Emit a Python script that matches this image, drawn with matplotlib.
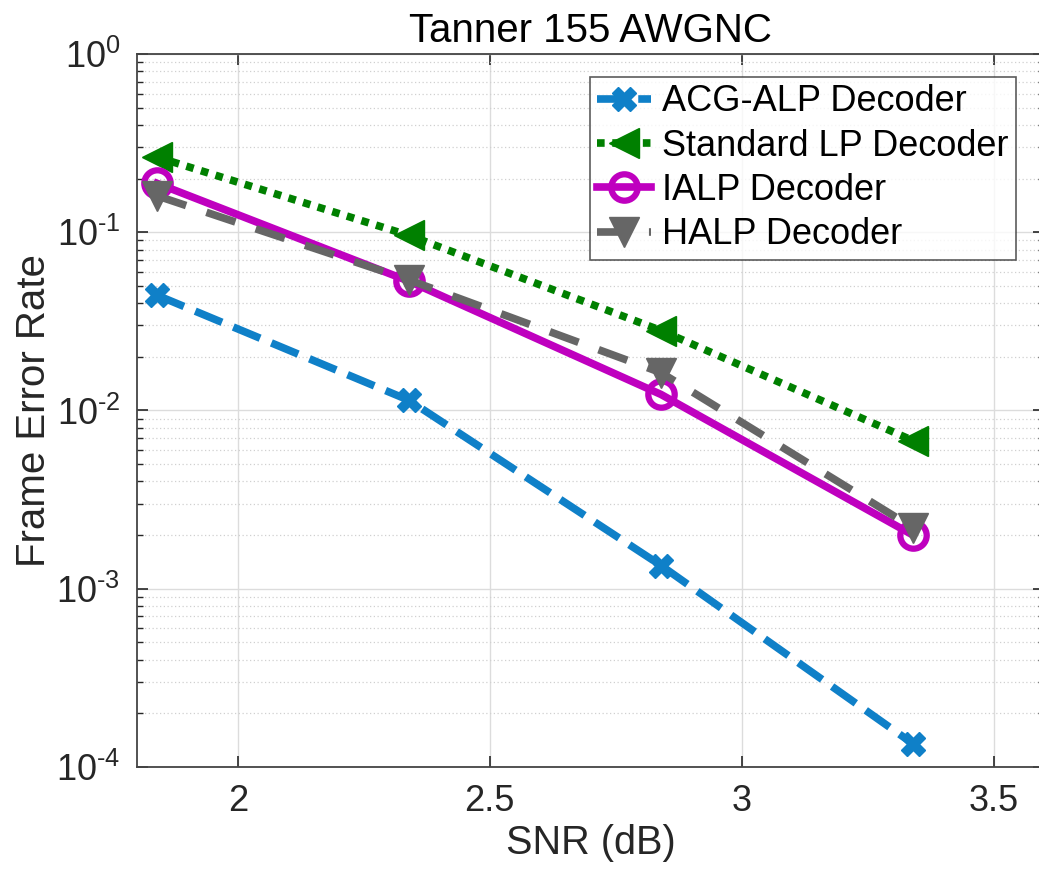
import matplotlib
matplotlib.use("Agg")
import matplotlib.pyplot as plt
from matplotlib.ticker import LogLocator, NullFormatter, FixedLocator, FixedFormatter

plt.rcParams['font.family'] = ['Liberation Sans', 'DejaVu Sans']
plt.rcParams['mathtext.fontset'] = 'custom'
plt.rcParams['mathtext.rm'] = 'Liberation Sans'
plt.rcParams['mathtext.it'] = 'Liberation Sans'

snr = [1.84, 2.34, 2.84, 3.34]
acg_alp = [0.0443, 0.0114, 0.00135, 1.35e-4]
standard_lp = [0.264, 0.096, 0.0281, 0.00678]
ialp = [0.188, 0.0531, 0.0123, 0.0020]
halp = [0.160, 0.054, 0.0163, 0.0022]
labels = ['ACG-ALP Decoder', 'Standard LP Decoder', 'IALP Decoder', 'HALP Decoder']
y_ticks = [1e-4, 1e-3, 1e-2, 1e-1, 1]
y_tick_labels = [r'$10^{\text{-}4}$', r'$10^{\text{-}3}$', r'$10^{\text{-}2}$',
                 r'$10^{\text{-}1}$', r'$10^{0}$']
x_ticks = [2, 2.5, 3, 3.5]
x_tick_labels = ['2', '2.5', '3', '3.5']

W, H = 1039, 871
fig = plt.figure(figsize=(W/100, H/100), dpi=100)
ax = fig.add_axes([137/W, 1-767/H, (1044-137)/W, (767-54)/H])

lw = 5.5
ax.plot(snr, acg_alp, color='#0f80c8', lw=lw, dashes=(3.8, 1.6), marker='X',
        ms=17, mec='#0f80c8', mew=1, label=labels[0])
ax.plot(snr, standard_lp, color='#008000', lw=lw, dashes=(1.0, 1.0), marker='<',
        ms=21, mec='#008000', label=labels[1])
ax.plot(snr, ialp, color='#bf00bf', lw=lw, ls='-', marker='o', ms=19,
        mfc='none', mec='#bf00bf', mew=4.5, label=labels[2])
ax.plot(snr, halp, color='#666666', lw=lw, dashes=(4.0, 2.8), marker='v',
        ms=21, mec='#666666', label=labels[3])

ax.set_yscale('log')
ax.set_xlim(1.8, 3.6)
ax.set_ylim(1e-4, 1)
ax.set_xticks(x_ticks)
ax.set_xticklabels(x_tick_labels)
ax.yaxis.set_major_locator(FixedLocator(y_ticks))
ax.yaxis.set_major_formatter(FixedFormatter(y_tick_labels))
ax.yaxis.set_minor_locator(LogLocator(base=10, subs=range(2, 10), numticks=100))
ax.yaxis.set_minor_formatter(NullFormatter())

ax.grid(True, which='major', color='#dcdcdc', lw=1.0)
ax.grid(True, which='minor', axis='y', color='#d0d0d0', lw=0.9, ls=(0, (1, 2)))
ax.set_axisbelow(True)

ax.tick_params(which='both', direction='in', top=True, right=True, labelsize=26,
               colors='#262626', pad=12)
ax.tick_params(which='major', length=8, width=1.2)
ax.tick_params(which='minor', length=4, width=1.0)
for s in ax.spines.values():
    s.set_color('#444444')
    s.set_linewidth(1.3)

ax.set_xlabel('SNR (dB)', fontsize=28.5, color='#262626', labelpad=4)
ax.set_ylabel('Frame Error Rate', fontsize=29, color='#262626', labelpad=2)
ax.set_title('Tanner 155 AWGNC', fontsize=29, color='black', pad=9)

leg = ax.legend(loc='upper right', bbox_to_anchor=((1016-137)/(1044-137), (767-77)/(767-54)),
                fontsize=26, frameon=True, fancybox=False, edgecolor='#333333',
                handlelength=1.5, handletextpad=0.3, borderpad=0.2, labelspacing=0.26,
                borderaxespad=0)
leg.get_frame().set_linewidth(1.2)

fig.savefig('out.png', dpi=100)
